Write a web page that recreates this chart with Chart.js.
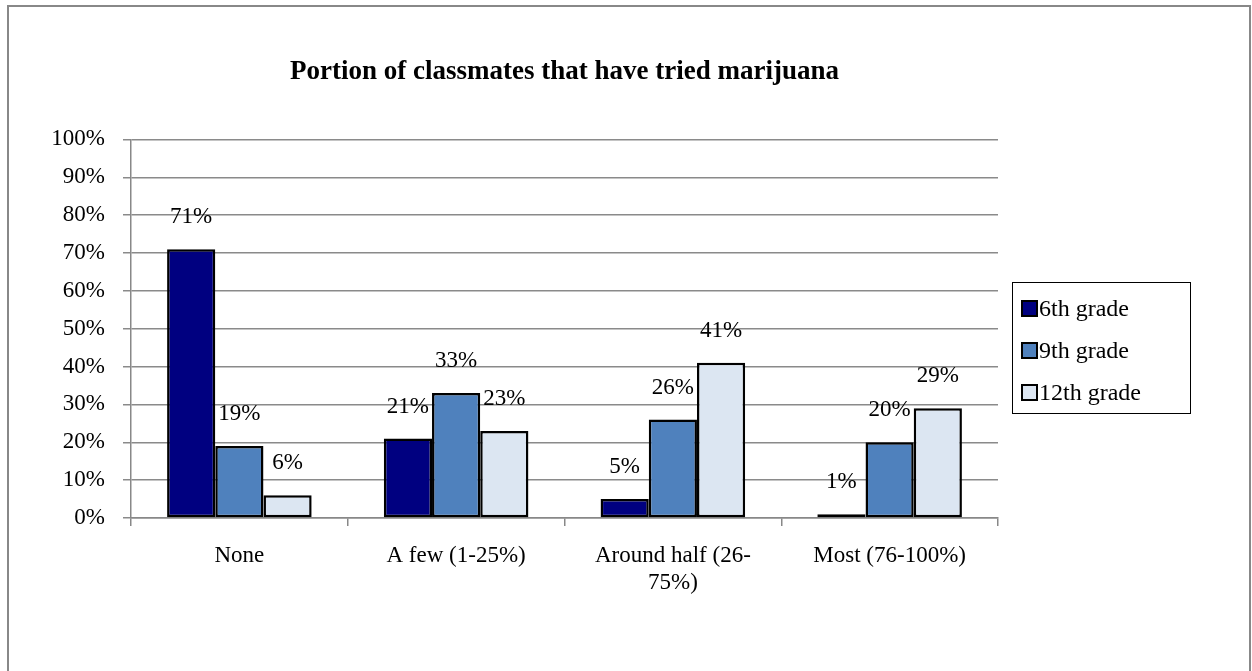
<!DOCTYPE html>
<html>
<head>
<meta charset="utf-8">
<script src="https://cdn.jsdelivr.net/npm/chart.js@4"></script>
<style>
  html, body { margin: 0; padding: 0; background: #fff; }
  #wrap { position: relative; width: 1252px; height: 671px; overflow: hidden; }
  #frame { position: absolute; left: 7px; top: 5px; width: 1240px; height: 700px; border: 2px solid #888; }
  #chart { position: absolute; left: 0; top: 0; }
</style>
</head>
<body>
<div id="wrap">
  <div id="frame"></div>
  <canvas id="chart" width="1252" height="671"></canvas>
</div>
<script>
// chart data
const categories = ['None', 'A few (1-25%)', ['Around half (26-', '75%)'], 'Most (76-100%)'];
const seriesNames = ['6th grade', '9th grade', '12th grade'];
const grade6 = [71, 21, 5, 1];
const grade9 = [19, 33, 26, 20];
const grade12 = [6, 23, 41, 29];
const yTicks = [0, 10, 20, 30, 40, 50, 60, 70, 80, 90, 100];

const colors = ['#000080', '#4f81bd', '#dce6f2'];
const serif = '"Liberation Serif", "Times New Roman", serif';

// labels above each bar
const barLabels = {
    id: 'barLabels',
    afterDatasetsDraw(chart) {
        const ctx = chart.ctx;
        ctx.save();
        ctx.font = '23px ' + serif;
        ctx.fillStyle = '#000';
        ctx.textAlign = 'center';
        ctx.textBaseline = 'middle';
        chart.data.datasets.forEach((ds, i) => {
            chart.getDatasetMeta(i).data.forEach((bar, j) => {
                ctx.fillText(ds.data[j] + '%', bar.x, bar.y - 32);
            });
        });
        ctx.restore();
    }
};

// boxed legend on the right
const boxLegend = {
    id: 'boxLegend',
    afterDraw(chart) {
        const ctx = chart.ctx;
        const x = 1012, y = 282, w = 178, h = 131;
        ctx.save();
        ctx.strokeStyle = '#000';
        ctx.lineWidth = 1;
        ctx.strokeRect(x + 0.5, y + 0.5, w, h);
        ctx.font = '24px ' + serif;
        ctx.textBaseline = 'middle';
        chart.data.datasets.forEach((ds, i) => {
            const cy = y + 27 + i * 42;
            ctx.fillStyle = ds.backgroundColor;
            ctx.fillRect(x + 10, cy - 8, 15, 15);
            ctx.lineWidth = 2;
            ctx.strokeRect(x + 10, cy - 8, 15, 15);
            ctx.fillStyle = '#000';
            ctx.fillText(ds.label, x + 27, cy + 1);
        });
        ctx.restore();
    }
};

new Chart(document.getElementById('chart'), {
    type: 'bar',
    data: {
        labels: categories,
        datasets: [grade6, grade9, grade12].map((vals, i) => ({
            label: seriesNames[i],
            data: vals,
            backgroundColor: colors[i],
            borderColor: '#000',
            borderWidth: 2.5,
            borderSkipped: false,
            categoryPercentage: 0.667,
            barPercentage: 1
        }))
    },
    options: {
        responsive: false,
        animation: false,
        layout: { padding: { left: 0, right: 254, top: 0, bottom: 0 } },
        plugins: {
            legend: { display: false },
            tooltip: { enabled: false },
            title: {
                display: true,
                fullSize: false,
                text: 'Portion of classmates that have tried marijuana',
                color: '#000',
                font: { family: serif, size: 27, weight: 'bold', lineHeight: 1.2 },
                padding: { top: 56, bottom: 51 }
            }
        },
        scales: {
            x: {
                grid: { drawOnChartArea: false, drawTicks: true, tickLength: 8, color: '#888', lineWidth: 1.5, offset: true },
                border: { color: '#888', width: 1.5 },
                ticks: {
                    color: '#000',
                    padding: 17,
                    maxRotation: 0,
                    font: { family: serif, size: 23, lineHeight: 1.15 }
                },
                afterFit(scale) { scale.height = 153; }
            },
            y: {
                min: 0,
                max: 100,
                afterBuildTicks(scale) { scale.ticks = yTicks.map(v => ({ value: v })); },
                grid: { color: '#8a8a8a', lineWidth: 1.5, tickLength: 8 },
                border: { color: '#888', width: 1.5 },
                ticks: {
                    color: '#000',
                    padding: 18,
                    font: { family: serif, size: 23 },
                    callback: v => v + '%'
                },
                afterFit(scale) { scale.width = 131; }
            }
        }
    },
    plugins: [barLabels, boxLegend]
});
</script>
</body>
</html>
